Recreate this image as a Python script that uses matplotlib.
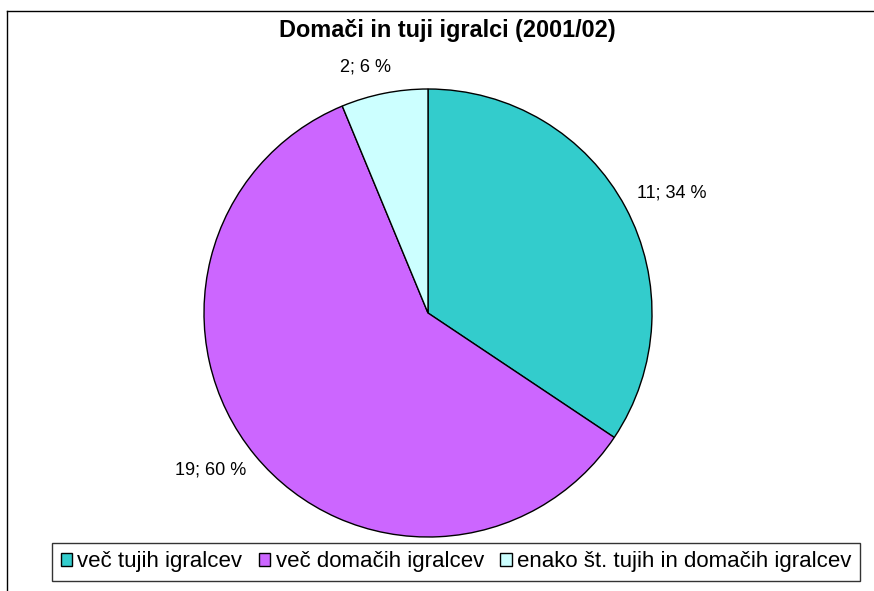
import matplotlib.pyplot as plt
from matplotlib.lines import Line2D

plt.rcParams['font.family'] = ['Liberation Sans', 'DejaVu Sans']

TITLE = "Domači in tuji igralci (2001/02)"
categories = ["več tujih igralcev", "več domačih igralcev", "enako št. tujih in domačih igralcev"]
counts = [11, 19, 2]
percents = [34, 60, 6]
colors = ["#33CCCC", "#CC66FF", "#CCFFFF"]

W, H = 874, 591
fig = plt.figure(figsize=(W / 100, H / 100), dpi=100)

# pie centre (428, 313) px, radius 224 px
cx, cy, r = 428, 313, 224
ax = fig.add_axes([(cx - r) / W, (H - cy - r) / H, 2 * r / W, 2 * r / H])

labels = [f"{c}; {p} %" for c, p in zip(counts, percents)]
wedges, texts = ax.pie(
    counts,
    colors=colors,
    startangle=90,
    counterclock=False,
    labels=labels,
    labeldistance=1.2,
    wedgeprops=dict(edgecolor="black", linewidth=1),
    textprops=dict(fontsize=13, ha="center", va="center"),
)
# excel-like label spots (in pie radii)
label_pos = [(1.089, 0.536), (-0.969, -0.701), (-0.281, 1.098)]
for t, p in zip(texts, label_pos):
    t.set_position(p)
ax.set_xlim(-1, 1)
ax.set_ylim(-1, 1)
ax.set_aspect("auto")

fig.text(447 / W, 1 - 30 / H, TITLE, ha="center", va="center",
         fontsize=16.9, fontweight="bold")

# chart area border (only left and top visible)
fig.add_artist(Line2D([7 / W, 7 / W], [0, 1 - 11 / H], transform=fig.transFigure,
                      color="black", lw=1))
fig.add_artist(Line2D([7 / W, 1], [1 - 11 / H, 1 - 11 / H], transform=fig.transFigure,
                      color="black", lw=1))

leg = fig.legend(wedges, categories, loc="center", bbox_to_anchor=(456 / W, 1 - 562 / H),
                 ncol=3, fontsize=16, frameon=True, fancybox=False, edgecolor="black",
                 handlelength=0.5, handleheight=0.5, handletextpad=0.25,
                 columnspacing=0.75, borderpad=0.38, borderaxespad=0)
leg.get_frame().set_linewidth(1)

fig.savefig("out.png", dpi=100)
